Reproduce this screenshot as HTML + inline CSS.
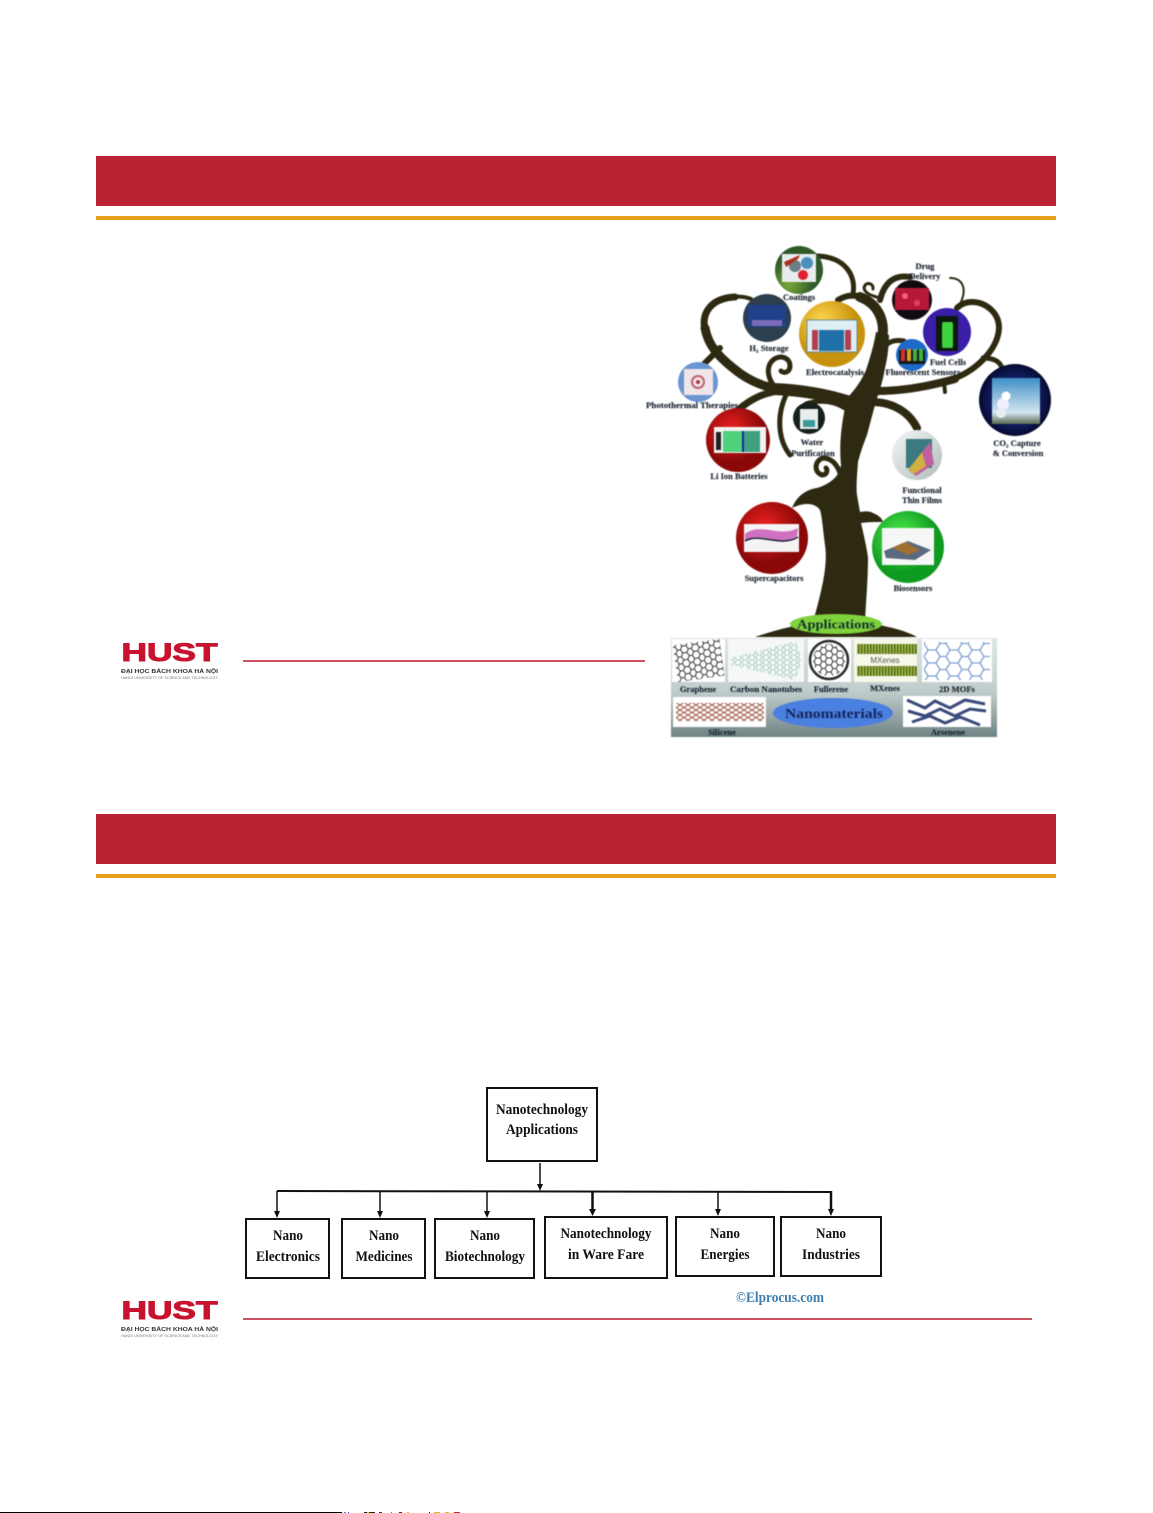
<!DOCTYPE html>
<html><head><meta charset="utf-8"><style>
html,body{margin:0;padding:0;background:#fff}
svg{display:block}
text{font-family:"Liberation Serif",serif}
.l{font-weight:bold;font-size:8.5px;fill:#1c2430;stroke:#1c2430;stroke-width:.15;text-anchor:middle}
.f{font-weight:bold;font-size:15px;fill:#111;text-anchor:middle}
.b{fill:none;stroke:#2e2a12;stroke-linecap:round;stroke-linejoin:round}
.h{font-family:"Liberation Sans",sans-serif;font-weight:bold;font-size:25px;fill:#c8132f;stroke:#c8132f;stroke-width:1}
</style></head><body>
<svg width="1153" height="1513" viewBox="0 0 1153 1513" xmlns="http://www.w3.org/2000/svg">
<defs>
<radialGradient id="gy" cx=".35" cy=".3"><stop offset="0" stop-color="#ffd850"/><stop offset="1" stop-color="#c8920c"/></radialGradient>
<radialGradient id="rd" cx=".4" cy=".35"><stop offset="0" stop-color="#f02020"/><stop offset="1" stop-color="#8a0808"/></radialGradient>
<radialGradient id="gn" cx=".4" cy=".35"><stop offset="0" stop-color="#50f050"/><stop offset="1" stop-color="#0f9a20"/></radialGradient>
<radialGradient id="db" cx=".5" cy=".5"><stop offset=".6" stop-color="#14206a"/><stop offset="1" stop-color="#060a30"/></radialGradient>
<radialGradient id="cg" cx=".3" cy=".8"><stop offset="0" stop-color="#7aa83a"/><stop offset="1" stop-color="#2f5a28"/></radialGradient>
<linearGradient id="co" x1="0" y1="0" x2="0" y2="1"><stop offset="0" stop-color="#3f8fc8"/><stop offset=".75" stop-color="#d4e6f0"/><stop offset="1" stop-color="#5a6a50"/></linearGradient>
<linearGradient id="pn" x1="0" y1="0" x2="0" y2="1"><stop offset="0" stop-color="#dfe5e5"/><stop offset=".55" stop-color="#c0cccc"/><stop offset="1" stop-color="#6f8484"/></linearGradient>
<linearGradient id="ff" x1="0" y1="0" x2="1" y2="1"><stop offset="0" stop-color="#f4f6f6"/><stop offset="1" stop-color="#b0bcbc"/></linearGradient>
<pattern id="hx" width="11" height="7" patternUnits="userSpaceOnUse"><path d="M0 3.5 2 0H6L8 3.5 6 7H2ZM8 3.5H11" fill="none" stroke="#333" stroke-width="1"/></pattern>
<pattern id="hg" width="7" height="5" patternUnits="userSpaceOnUse"><path d="M0 2.500 1.500 0H4.500L6 2.500 4.500 5H1.500ZM6 2.500H7" fill="none" stroke="#7fb8a4" stroke-width=".6"/></pattern>
<pattern id="hb" width="22" height="13" patternUnits="userSpaceOnUse"><path d="M0 6.500 4 0H12L16 6.500 12 13H4ZM16 6.500H22" fill="none" stroke="#7f9fd0" stroke-width="1.300"/></pattern>
<pattern id="sl" width="8" height="5" patternUnits="userSpaceOnUse"><path d="M0 0 8 5M8 0 0 5" stroke="#a05a4a" stroke-width="1"/></pattern>
<pattern id="mx" width="3" height="4" patternUnits="userSpaceOnUse"><rect width="1.600" height="4" fill="#4c6a20"/><rect x="1.600" width="1.400" height="4" fill="#a8b840"/></pattern>
</defs>

<rect x="96" y="156" width="960" height="50" fill="#bb2233"/>
<rect x="96" y="216" width="960" height="4" fill="#e5a01c"/>
<rect x="96" y="814" width="960" height="50" fill="#bb2233"/>
<rect x="96" y="874" width="960" height="4" fill="#e5a01c"/>

<text class="h" x="121.500" y="661" textLength="96" lengthAdjust="spacingAndGlyphs">HUST</text>
<text x="121" y="673" font-size="5.500" font-weight="bold" style="font-family:'Liberation Sans',sans-serif" fill="#333" textLength="97" lengthAdjust="spacingAndGlyphs">ĐẠI HỌC BÁCH KHOA HÀ NỘI</text>
<text x="121" y="679" font-size="4" style="font-family:'Liberation Sans',sans-serif" fill="#777" textLength="97" lengthAdjust="spacingAndGlyphs">HANOI UNIVERSITY OF SCIENCE AND TECHNOLOGY</text>
<rect x="243" y="660" width="402" height="2" fill="#cc5060"/>
<text class="h" x="121.500" y="1319" textLength="96" lengthAdjust="spacingAndGlyphs">HUST</text>
<text x="121" y="1331" font-size="5.500" font-weight="bold" style="font-family:'Liberation Sans',sans-serif" fill="#333" textLength="97" lengthAdjust="spacingAndGlyphs">ĐẠI HỌC BÁCH KHOA HÀ NỘI</text>
<text x="121" y="1337" font-size="4" style="font-family:'Liberation Sans',sans-serif" fill="#777" textLength="97" lengthAdjust="spacingAndGlyphs">HANOI UNIVERSITY OF SCIENCE AND TECHNOLOGY</text>
<rect x="243" y="1318" width="789" height="2" fill="#cc5060"/>

<!-- tree -->
<g style="filter:blur(.4px)">
<path d="M755 637C775 630 797 625 813 622C822 590 828 565 825 545C823 530 822 516 820 510C815 503 805 502 792 508C797 495 808 489 817 488C830 484 840 476 841 465C839 445 841 425 847 398C853 392 861 382 866 370C870 358 874 345 876 332L889 335C889 348 887 360 885 368C883 380 880 390 877 398C873 412 870 424 867 435C863 445 860 454 858 462C857 475 856 488 857 495L860 512C866 511 870 511 873 513C878 515 882 518 883 522C876 522 868 522 861 523C865 540 867 550 868 557C868 580 866 600 865 622C885 626 905 630 917 637Z" fill="#2e2a12"/>
<path class="b" stroke-width="12" d="M850 402C825 394 800 390 773 389"/>
<path class="b" stroke-width="9" d="M775 388C760 386 745 378 733 368C718 356 708 345 705 328"/>
<path class="b" stroke-width="7" d="M705 330C701 312 712 298 735 297"/>
<path class="b" stroke-width="4" d="M732 297C740 296 746 297 751 299"/>
<path class="b" stroke-width="6" d="M704 364 720 348"/>
<path class="b" stroke-width="7" d="M785 390C765 392 752 398 738 410"/>
<path class="b" stroke-width="5" d="M775 387C767 378 766 366 773 360C781 354 790 358 790 366C790 372 784 374 781 371"/>
<path class="b" stroke-width="10" d="M882 340C886 318 876 303 860 297"/>
<path class="b" stroke-width="6" d="M862 297C852 294 845 296 838 300"/>
<path class="b" stroke-width="5" d="M853 294C856 276 846 257 817 256"/>
<path class="b" stroke-width="6" d="M880 300C884 284 893 274 910 277"/>
<path class="b" stroke-width="3" d="M880 298C873 296 865 294 864 288C865 281 874 283 873 289"/>
<path class="b" stroke-width="8" d="M878 391C905 391 930 386 955 379"/>
<path class="b" stroke-width="6" d="M950 380C975 372 998 350 999 328C999 312 985 302 972 302C966 302 961 304 957 308"/>
<path class="b" stroke-width="2" d="M950 278C962 278 968 288 960 304"/>
<path class="b" stroke-width="5" d="M878 358C885 342 892 339 904 341"/>
<path class="b" stroke-width="5" d="M983 358C995 358 1000 362 1002 368"/>
<path class="b" stroke-width="4" d="M944 382 945 392"/>
<path class="b" stroke-width="8" d="M872 402C890 402 908 410 917 428"/>
<path class="b" stroke-width="5" d="M787 393C776 415 778 440 790 455"/>
<path class="b" stroke-width="5" d="M806 404C818 400 832 400 845 408"/>
<path class="b" stroke-width="5" d="M842 482C840 466 832 458 823 458C815 460 813 472 822 475C827 475 828 470 826 468"/>

<g>
<circle cx="799" cy="270" r="24" fill="url(#cg)"/><rect x="782" y="254" width="34" height="28" fill="#e8ecec"/><circle cx="795" cy="266" r="6" fill="#6a7f8a"/><circle cx="807" cy="263" r="6" fill="#4a8fc0"/><circle cx="803" cy="275" r="5" fill="#e02030"/><path d="M784 262 800 255 798 259 786 267Z" fill="#b03020"/>
<circle cx="767" cy="318" r="24" fill="#2b3f4f"/><rect x="748" y="305" width="38" height="22" fill="#20408a"/><rect x="752" y="320" width="30" height="6" fill="#7a6ab8"/>
<circle cx="832" cy="334" r="33" fill="url(#gy)"/><rect x="807" y="320" width="50" height="32" fill="#dfeef2" stroke="#6a8a9a"/><rect x="819" y="330" width="25" height="21" fill="#2070a8"/><rect x="812" y="330" width="6" height="20" fill="#b04050"/><rect x="845" y="330" width="6" height="20" fill="#b04050"/>
<circle cx="912" cy="300" r="20" fill="#120a10"/><rect x="895" y="288" width="34" height="22" fill="#b81838"/><circle cx="905" cy="296" r="3" fill="#f06080"/><circle cx="917" cy="303" r="3" fill="#e04060"/>
<circle cx="947" cy="332" r="24" fill="#3a1ea8"/><rect x="936" y="316" width="22" height="35" fill="#0c1a0c"/><rect x="942" y="322" width="11" height="26" rx="2" fill="#3fd23f"/>
<circle cx="912" cy="355" r="16" fill="#1f6ac8"/><rect x="899" y="350" width="26" height="14" fill="#181818"/><rect x="901" y="349" width="4" height="12" fill="#d03030"/><rect x="907" y="349" width="4" height="12" fill="#e0a020"/><rect x="913" y="349" width="4" height="12" fill="#40b040"/><rect x="919" y="349" width="4" height="12" fill="#40b040"/>
<circle cx="1015" cy="400" r="36" fill="url(#db)"/><rect x="992" y="378" width="48" height="46" fill="url(#co)"/><circle cx="1003" cy="404" r="6" fill="#eef"/><circle cx="1006" cy="396" r="4.500" fill="#fff"/><circle cx="1001" cy="413" r="5" fill="#e8eef0"/>
<circle cx="698" cy="382" r="20" fill="#6a95d0"/><rect x="684" y="369" width="29" height="26" fill="#f0e6ea"/><circle cx="698" cy="382" r="6" fill="none" stroke="#c06070" stroke-width="2"/><circle cx="698" cy="382" r="2" fill="#b03040"/>
<circle cx="738" cy="440" r="32" fill="url(#rd)"/><rect x="714" y="427" width="52" height="26" fill="#f2f2f2"/><rect x="723" y="431" width="19" height="21" fill="#4fd07a"/><rect x="742" y="431" width="2" height="21" fill="#1030a0"/><rect x="744" y="431" width="16" height="21" fill="#40a080"/><rect x="716" y="432" width="5" height="18" fill="#222"/>
<circle cx="809" cy="418" r="16" fill="#142018"/><rect x="800" y="409" width="18" height="20" fill="#e8eeee"/><rect x="803" y="420" width="12" height="7" fill="#3a9a98"/>
<circle cx="917" cy="455" r="25" fill="url(#ff)"/><path d="M906 439H932V468H906Z" fill="#3a7a80"/><path d="M908 470 930 442 934 464 916 476Z" fill="#c060a0"/><path d="M908 470 922 452 926 466 914 474Z" fill="#d0b040"/>
<circle cx="772" cy="538" r="36" fill="url(#rd)"/><rect x="744" y="524" width="55" height="28" fill="#f4f4f4"/><path d="M745 534C760 522 780 538 798 528L797 536C780 548 760 530 745 541Z" fill="#d070c0"/><path d="M745 541C760 532 780 548 798 537" fill="none" stroke="#1a1a3a" stroke-width="1.500"/>
<circle cx="908" cy="547" r="36" fill="url(#gn)"/><rect x="882" y="528" width="52" height="37" fill="#f6f6f6"/><path d="M884 551 908 541 931 550 915 560 886 558Z" fill="#5a6a80"/><path d="M892 548 905 542 920 550 908 555Z" fill="#a07030"/>
</g>

<g>
<rect x="671" y="638" width="326" height="99" fill="url(#pn)"/>
<rect x="672" y="639" width="53" height="43" fill="#fff"/><rect x="675" y="642" width="47" height="37" fill="url(#hx)" transform="rotate(-8 698 660)"/>
<rect x="728" y="639" width="76" height="43" fill="#f6f8f6"/><path d="M731 658 796 641 802 661 795 680 731 665Z" fill="url(#hg)"/>
<rect x="808" y="639" width="43" height="43" fill="#fff"/><circle cx="829" cy="660" r="19" fill="none" stroke="#2a2a2a" stroke-width="2.500"/><circle cx="829" cy="660" r="16" fill="url(#hx)"/>
<rect x="854" y="639" width="63" height="43" fill="#f8f8e8"/><rect x="857" y="644" width="60" height="10" fill="url(#mx)"/><rect x="857" y="666" width="60" height="10" fill="url(#mx)"/>
<text x="885" y="663" font-size="8" style="font-family:'Liberation Sans',sans-serif" fill="#555" text-anchor="middle">MXenes</text>
<rect x="922" y="639" width="70" height="43" fill="#fff"/><rect x="924" y="642" width="66" height="38" fill="url(#hb)"/>
<rect x="673" y="697" width="93" height="30" fill="#fff"/><rect x="676" y="703" width="88" height="18" fill="url(#sl)"/>
<rect x="903" y="696" width="88" height="31" fill="#fff"/>
<path d="M907 700 925 708 935 701 950 708 965 700 985 704M908 711 925 716 940 709 955 716 970 709 986 711M912 722 930 716 945 723 960 717 980 725" fill="none" stroke="#3a4a7a" stroke-width="3"/>
<ellipse cx="833" cy="713" rx="60" ry="15" fill="#4a80e0"/>
<text x="834" y="718" font-size="14" font-weight="bold" fill="#14245a" text-anchor="middle" textLength="98" lengthAdjust="spacingAndGlyphs">Nanomaterials</text>
<text class="l" x="698" y="692">Graphene</text>
<text class="l" x="766" y="692" textLength="72" lengthAdjust="spacingAndGlyphs">Carbon Nanotubes</text>
<text class="l" x="831" y="692">Fullerene</text>
<text class="l" x="885" y="691">MXenes</text>
<text class="l" x="957" y="692">2D MOFs</text>
<text class="l" x="722" y="735">Silicene</text>
<text class="l" x="948" y="735">Arsenene</text>
</g>
<ellipse cx="836" cy="624" rx="46" ry="10" fill="#7ed23c"/>
<text x="836" y="628.500" font-size="13" font-weight="bold" fill="#14302a" text-anchor="middle" textLength="78" lengthAdjust="spacingAndGlyphs">Applications</text>

<text class="l" x="799" y="300">Coatings</text>
<text class="l" x="925" y="269">Drug</text>
<text class="l" x="925" y="279">Delivery</text>
<text class="l" x="769" y="351">H₂ Storage</text>
<text class="l" x="835" y="375" textLength="58" lengthAdjust="spacingAndGlyphs">Electrocatalysis</text>
<text class="l" x="948" y="365">Fuel Cells</text>
<text class="l" x="923" y="375" textLength="75" lengthAdjust="spacingAndGlyphs">Fluorescent Sensors</text>
<text class="l" x="692" y="408" textLength="92" lengthAdjust="spacingAndGlyphs">Photothermal Therapies</text>
<text class="l" x="812" y="445">Water</text>
<text class="l" x="813" y="456">Purification</text>
<text class="l" x="739" y="479">Li Ion Batteries</text>
<text class="l" x="1017" y="446">CO₂ Capture</text>
<text class="l" x="1018" y="456">&amp; Conversion</text>
<text class="l" x="922" y="493">Functional</text>
<text class="l" x="922" y="503">Thin Films</text>
<text class="l" x="774" y="581">Supercapacitors</text>
<text class="l" x="913" y="591">Biosensors</text>
</g>

<!-- flow chart -->
<g fill="#fff" stroke="#111" stroke-width="2">
<rect x="487" y="1088" width="110" height="73"/>
<rect x="246" y="1219" width="83" height="59"/>
<rect x="342" y="1219" width="83" height="59"/>
<rect x="435" y="1219" width="99" height="59"/>
<rect x="545" y="1217" width="122" height="61"/>
<rect x="676" y="1217" width="98" height="59"/>
<rect x="781" y="1217" width="100" height="59"/>
</g>
<g stroke="#111" fill="none">
<path d="M277 1191 831 1192" stroke-width="2"/>
<path d="M540 1163V1186" stroke-width="1.500"/>
<path d="M277 1191V1212" stroke-width="1.500"/>
<path d="M380 1191V1212" stroke-width="1.500"/>
<path d="M487 1191V1212" stroke-width="1.500"/>
<path d="M592.500 1191V1210" stroke-width="2.500"/>
<path d="M718 1192V1210" stroke-width="1.500"/>
<path d="M831 1191V1210" stroke-width="2.500"/>
</g>
<g fill="#111">
<path d="M537 1184H543L540 1191Z"/>
<path d="M274 1211H280L277 1218Z"/>
<path d="M377 1211H383L380 1218Z"/>
<path d="M484 1211H490L487 1218Z"/>
<path d="M589 1209H596L592.500 1216Z"/>
<path d="M715 1209H721L718 1216Z"/>
<path d="M828 1209H834L831 1216Z"/>
</g>
<g>
<text class="f" x="542" y="1114" textLength="92" lengthAdjust="spacingAndGlyphs">Nanotechnology</text>
<text class="f" x="542" y="1134" textLength="72" lengthAdjust="spacingAndGlyphs">Applications</text>
<text class="f" x="288" y="1240" textLength="30" lengthAdjust="spacingAndGlyphs">Nano</text>
<text class="f" x="288" y="1261" textLength="64" lengthAdjust="spacingAndGlyphs">Electronics</text>
<text class="f" x="384" y="1240" textLength="30" lengthAdjust="spacingAndGlyphs">Nano</text>
<text class="f" x="384" y="1261" textLength="57" lengthAdjust="spacingAndGlyphs">Medicines</text>
<text class="f" x="485" y="1240" textLength="30" lengthAdjust="spacingAndGlyphs">Nano</text>
<text class="f" x="485" y="1261" textLength="80" lengthAdjust="spacingAndGlyphs">Biotechnology</text>
<text class="f" x="606" y="1238" textLength="91" lengthAdjust="spacingAndGlyphs">Nanotechnology</text>
<text class="f" x="606" y="1259" textLength="76" lengthAdjust="spacingAndGlyphs">in Ware Fare</text>
<text class="f" x="725" y="1238" textLength="30" lengthAdjust="spacingAndGlyphs">Nano</text>
<text class="f" x="725" y="1259" textLength="49" lengthAdjust="spacingAndGlyphs">Energies</text>
<text class="f" x="831" y="1238" textLength="30" lengthAdjust="spacingAndGlyphs">Nano</text>
<text class="f" x="831" y="1259" textLength="58" lengthAdjust="spacingAndGlyphs">Industries</text>
</g>
<text x="780" y="1302" font-size="15" font-weight="bold" fill="#3f7fb0" text-anchor="middle" textLength="88" lengthAdjust="spacingAndGlyphs">©Elprocus.com</text>

<rect x="0" y="1512" width="342" height="1" fill="#000"/>
<g>
<rect x="344" y="1512" width="2" height="1" fill="#3a8"/><rect x="348" y="1512" width="1" height="1" fill="#33c"/>
<rect x="364" y="1512" width="11" height="1" fill="#222"/><rect x="367" y="1512" width="2" height="1" fill="#dc2"/>
<rect x="379" y="1512" width="3" height="1" fill="#811"/><rect x="391" y="1512" width="1" height="1" fill="#c3c"/>
<rect x="399" y="1512" width="3" height="1" fill="#811"/><rect x="407" y="1512" width="2" height="1" fill="#db2"/>
<rect x="429" y="1512" width="1" height="1" fill="#222"/><rect x="434" y="1512" width="6" height="1" fill="#db2"/>
<rect x="445" y="1512" width="4" height="1" fill="#db2"/><rect x="454" y="1512" width="6" height="1" fill="#c24"/>
</g>
</svg>
</body></html>
